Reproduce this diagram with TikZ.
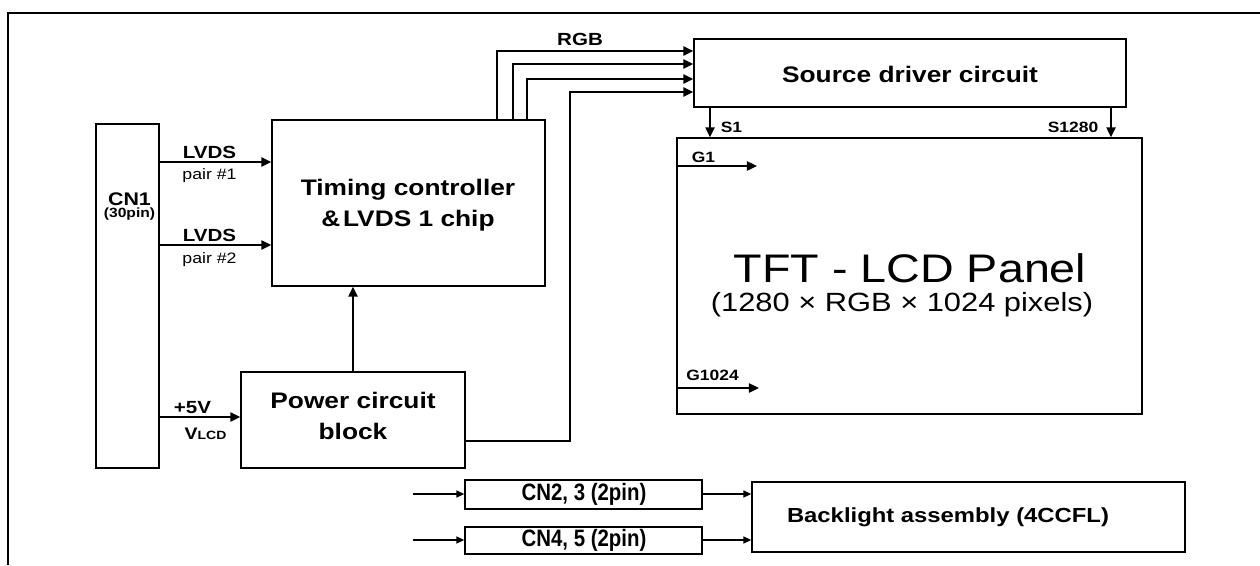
\documentclass[tikz,border=0pt]{standalone}
\usepackage{fontspec}
\setmainfont{Liberation Sans}[FakeStretch=1.17]
\newfontfamily\narrowfont{Liberation Sans}[FakeStretch=0.86]
\usetikzlibrary{arrows.meta,fit}
\begin{document}
\begin{tikzpicture}[x=0.02cm,y=-0.02cm,
  box/.style={draw, line width=0.8pt, inner sep=0pt},
  arr/.style={line width=1.1pt, -{Triangle[length=5.7pt,width=5.2pt]}},
  sarr/.style={line width=0.7pt, -{Triangle[length=4.5pt,width=4pt]}},
  big/.style={font=\fontsize{12.8}{17.5}\selectfont\bfseries, align=center, inner sep=0pt},
  lab/.style={font=\fontsize{10}{12}\selectfont\bfseries, inner sep=0pt},
  sub/.style={font=\fontsize{8.6}{10}\selectfont, inner sep=0pt},
  sig/.style={font=\fontsize{8.5}{10}\selectfont\bfseries, inner sep=0pt},
  cnt/.style={font=\narrowfont\fontsize{13.5}{14}\selectfont\bfseries, inner sep=0pt},
]
\useasboundingbox (0,0) rectangle (1260,565);
\draw[line width=1.3pt] (8,565) -- (8,13) -- (1260,13);

% boxes
\node[box, fit={(96,124) (159,468)}] (cn1) {};
\node[box, fit={(272,120) (545,286)}] (tc) {};
\node[box, fit={(241,372) (465,468)}] (pw) {};
\node[box, fit={(694,39) (1126,107)}] (sd) {};
\node[box, fit={(677,138) (1142,414)}] (panel) {};
\node[box, fit={(465,480) (702,509)}] (cn2) {};
\node[box, fit={(465,527) (702,554)}] (cn4) {};
\node[box, fit={(752,482) (1185,552)}] (bl) {};

% box texts
\node[font=\fontsize{10.4}{12}\selectfont\bfseries, inner sep=0pt] (cn1t) at (129.5,199) {CN1};
\node[font=\fontsize{7.6}{9}\selectfont\bfseries, inner sep=0pt] (cn1p) at (129.5,214) {(30pin)};
\node[big] (tct) at (408,205) {Timing controller\\\&\hspace{0.12em}LVDS 1 chip};
\node[big] (pwt) at (353,416) {Power circuit\\block};
\node[big] (sdt) at (910,74) {Source driver circuit};
\node[font=\fontsize{22.7}{26}\selectfont, inner sep=0pt] (pt1) at (910,268) {TFT - LCD Panel};
\node[font=\fontsize{15}{18}\selectfont, inner sep=0pt] (pt2) at (902,305) {(1280 × RGB × 1024 pixels)};
\node[cnt] (cn2t) at (584,494) {CN2, 3 (2pin)};
\node[cnt] (cn4t) at (584,540) {CN4, 5 (2pin)};
\node[font=\fontsize{11.6}{13}\selectfont\bfseries, inner sep=0pt] (blt) at (948,517) {Backlight assembly (4CCFL)};

% LVDS
\coordinate (yl1) at (0,162);
\coordinate (yl2) at (0,245);
\coordinate (yv) at (0,417);
\draw[arr] (cn1.east |- yl1) -- (tc.west |- yl1);
\draw[arr] (cn1.east |- yl2) -- (tc.west |- yl2);
\draw[arr] (cn1.east |- yv) -- (pw.west |- yv);
\node[lab] (l1) at (209.5,152) {LVDS};
\node[sub] (p1t) at (209.5,176) {pair \#1};
\node[lab] (l2) at (209.5,235) {LVDS};
\node[sub] (p2t) at (209.5,260) {pair \#2};
\node[lab] (v5) at (192.5,407.5) {+5V};
\node[inner sep=0pt, font=\bfseries] (vlcd) at (205.5,434) {\fontsize{9.5}{11}\selectfont V\fontsize{6.8}{8}\selectfont LCD};

% power to timing
\draw[arr] (pw.north) -- (tc.south -| pw.north);

% RGB
\coordinate (r1) at (497,51);
\coordinate (r2) at (513,64);
\coordinate (r3) at (527,79);
\draw[arr] (tc.north -| r1) -- (r1) -- (sd.west |- r1);
\draw[arr] (tc.north -| r2) -- (r2) -- (sd.west |- r2);
\draw[arr] (tc.north -| r3) -- (r3) -- (sd.west |- r3);
\node[lab] (rgb) at (580,39) {RGB};

% power to source driver
\coordinate (q1) at (570,441);
\coordinate (q2) at (570,92);
\draw[arr] (pw.east |- q1) -- (q1) -- (q2) -- (sd.west |- q2);

% S lines
\coordinate (s1) at (710,0);
\coordinate (s2) at (1111,0);
\draw[arr] (sd.south -| s1) -- (panel.north -| s1);
\draw[arr] (sd.south -| s2) -- (panel.north -| s2);
\node[sig] (s1t) at (731.5,127) {S1};
\node[sig] (s2t) at (1073,127) {S1280};

% G lines
\coordinate (g1) at (757,166);
\coordinate (g2) at (759,388);
\draw[arr] (panel.west |- g1) -- (g1);
\draw[arr] (panel.west |- g2) -- (g2);
\node[sig] (g1t) at (703.5,157.5) {G1};
\node[sig] (g2t) at (712.5,375) {G1024};

% backlight
\coordinate (i1) at (413,494);
\coordinate (i2) at (413,540);
\draw[sarr] (i1) -- (cn2.west |- i1);
\draw[sarr] (i2) -- (cn4.west |- i2);
\draw[sarr] (cn2.east |- i1) -- (bl.west |- i1);
\draw[sarr] (cn4.east |- i2) -- (bl.west |- i2);
\end{tikzpicture}
\end{document}
